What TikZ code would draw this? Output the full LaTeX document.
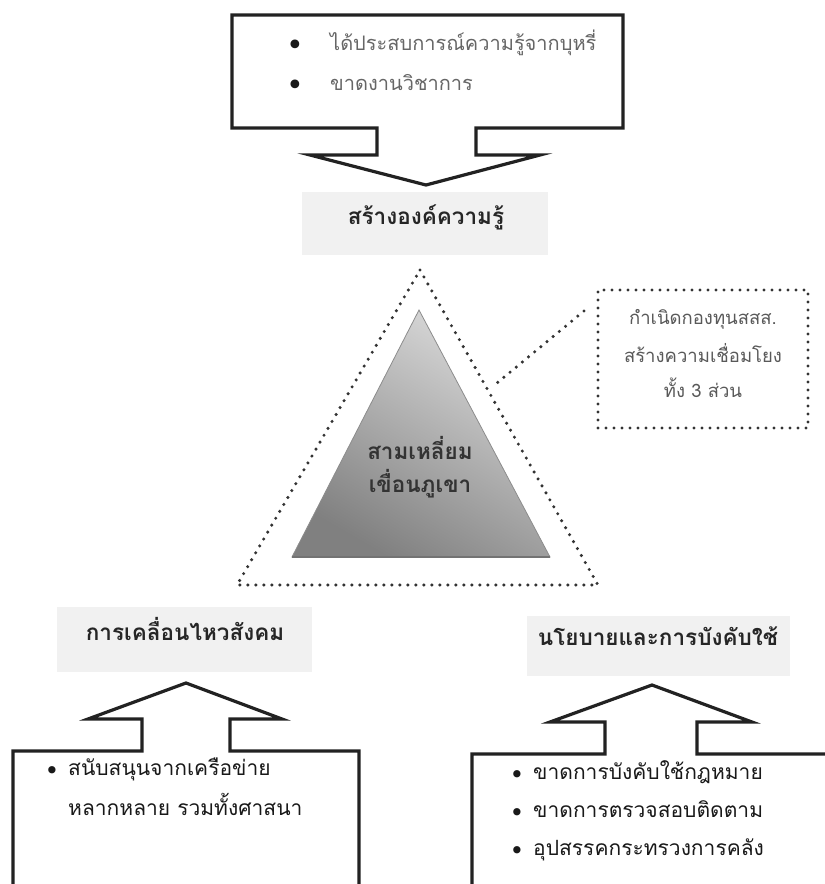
\documentclass[tikz,border=0pt]{standalone}
\usepackage{fontspec}
\setmainfont[Script=Thai]{Loma}
\newfontfamily\dejavu{DejaVu Sans}
\definecolor{lblbg}{HTML}{F1F1F1}
\definecolor{ink}{HTML}{222222}
\begin{document}
\begin{tikzpicture}[x=1pt,y=-1pt,
  outline/.style={draw=ink, line width=3.2pt, line join=miter, fill=white},
  dotline/.style={draw=black!80, line width=3.4pt, dash pattern=on 0pt off 8pt, line cap=round},
  lblbox/.style={fill=lblbg, draw=none, inner sep=0pt},
  thai/.style={inner sep=0pt, text height=0.54em, text depth=0pt},
  lbltext/.style={thai, text=black!85, font=\bfseries\fontsize{22.5}{26}\selectfont},
  greytext/.style={thai, anchor=west, text=black!60, font=\fontsize{20}{24}\selectfont},
  bigdot/.style={inner sep=0pt, font=\dejavu\fontsize{30}{32}\selectfont, text=black!90},
  dot/.style={inner sep=0pt, font=\dejavu\fontsize{25}{28}\selectfont, text=black!90},
  bodytext/.style={thai, anchor=west, text=black!90, font=\fontsize{21}{24}\selectfont},
  notetext/.style={thai, text=black!65, font=\fontsize{18.5}{22}\selectfont},
  tritext/.style={thai, text=black!80, font=\bfseries\fontsize{22.5}{26}\selectfont}
]
\clip (0,0) rectangle (825,884);
\fill[white] (0,0) rectangle (825,884);

% ---- top down-arrow callout
\draw[outline] (232,15) -- (623,15) -- (623,128) -- (476,128) -- (476,155) -- (540,155)
  -- (426,185) -- (310,155) -- (377,155) -- (377,128) -- (232,128) -- cycle;
\node[bigdot] (tb1) at (295,48) {•};
\node[greytext] (t1) at (330,48) {ได้ประสบการณ์ความรู้จากบุหรี่};
\node[bigdot] (tb2) at (295,88) {•};
\node[greytext] (t2) at (330,88) {ขาดงานวิชาการ};

\node[lblbox, minimum width=246pt, minimum height=63pt] (know) at (425,223.5) {};
\node[lbltext] (knowt) at (426,222) {สร้างองค์ความรู้};

% ---- triangle
\draw[dotline] (420,270) -- (598,585) -- (237,585) -- cycle;
\shade[top color=black!14, bottom color=black!50, shading angle=-30, draw=black!45, line width=0.8pt]
  (419,310) -- (550,557) -- (292,557) -- cycle;
\draw[black!55, line width=1.5pt] (292,557) -- (550,557);
\node[tritext] (tri1) at (420,457) {สามเหลี่ยม};
\node[tritext] (tri2) at (420,490) {เขื่อนภูเขา};

% ---- note box
\node[dotline, minimum width=210pt, minimum height=138pt] (fund) at (703,359) {};
\node[notetext] (f1) at (703,322) {กำเนิดกองทุนสสส.};
\node[notetext] (f2) at (703,360) {สร้างความเชื่อมโยง};
\node[notetext] (f3) at (703,395) {ทั้ง 3 ส่วน};
\coordinate (n1) at (584,311);
\coordinate (n2) at (497,383);
\draw[dotline] (n1) -- (n2);

% ---- left up-arrow callout
\node[lblbox, minimum width=255pt, minimum height=65pt] (social) at (184.5,639.5) {};
\node[lbltext] (socialt) at (185,638) {การเคลื่อนไหวสังคม};
\draw[outline] (186,683) -- (282,719) -- (230,719) -- (230,751) -- (359,751) -- (359,900)
  -- (13,900) -- (13,751) -- (142,751) -- (142,719) -- (88,719) -- cycle;
\node[dot] (lb1) at (52,773) {•};
\node[bodytext] (l1) at (68,773) {สนับสนุนจากเครือข่าย};
\node[bodytext] (l2) at (68,813) {หลากหลาย รวมทั้งศาสนา};

% ---- right up-arrow callout
\node[lblbox, minimum width=263pt, minimum height=60pt] (policy) at (658,646) {};
\node[lbltext] (policyt) at (658,643) {นโยบายและการบังคับใช้};
\draw[outline] (652,685) -- (752,722) -- (697,722) -- (697,754) -- (840,754) -- (840,900)
  -- (472,900) -- (472,754) -- (605,754) -- (605,722) -- (550,722) -- cycle;
\node[dot] (rb1) at (517,777) {•};
\node[bodytext] (r1) at (533,777) {ขาดการบังคับใช้กฎหมาย};
\node[dot] (rb2) at (517,815) {•};
\node[bodytext] (r2) at (533,815) {ขาดการตรวจสอบติดตาม};
\node[dot] (rb3) at (517,853) {•};
\node[bodytext] (r3) at (533,853) {อุปสรรคกระทรวงการคลัง};
\end{tikzpicture}
\end{document}
